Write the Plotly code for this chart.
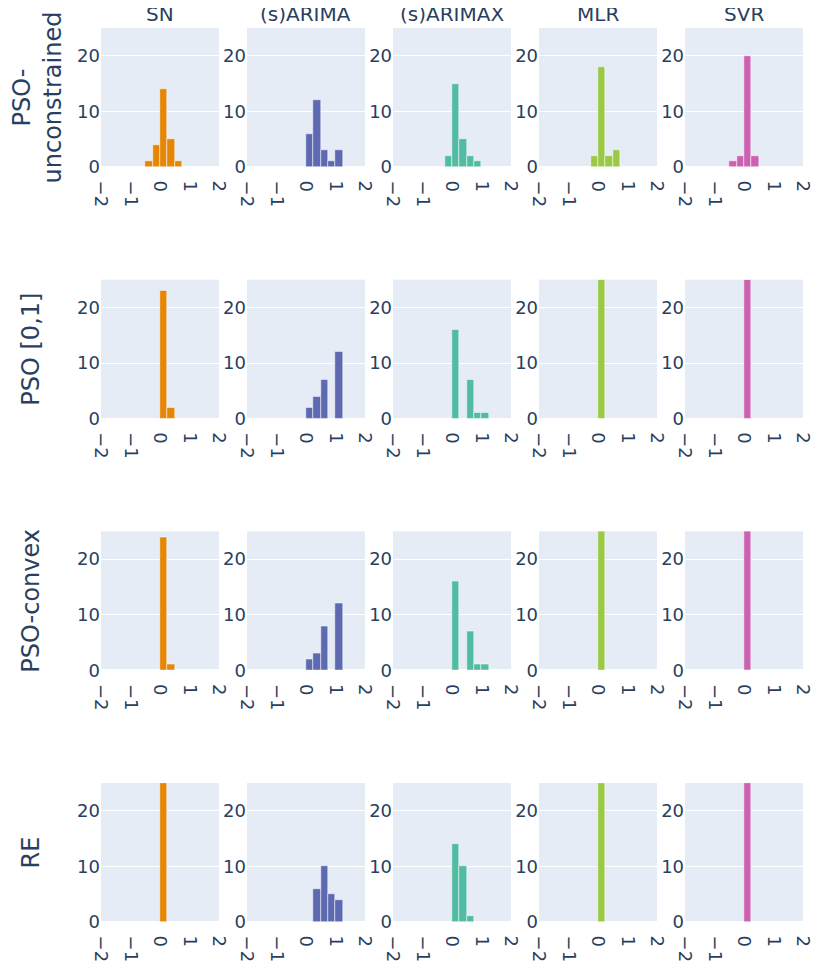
import plotly.graph_objects as go
from plotly.subplots import make_subplots

# model columns and method rows
models = ["SN", "(s)ARIMA", "(s)ARIMAX", "MLR", "SVR"]
methods = ["PSO-<br>unconstrained", "PSO [0,1]", "PSO-convex", "RE"]

# left edges of the histogram bins (width 0.25)
bin_left = [-0.5, -0.25, 0.0, 0.25, 0.5, 0.75, 1.0]
bin_width = 0.25

# counts per bin, one list per model for each method row
pso_unconstrained = [
    [1, 4, 14, 5, 1, 0, 0],
    [0, 0, 6, 12, 3, 1, 3],
    [0, 2, 15, 5, 2, 1, 0],
    [0, 2, 18, 2, 3, 0, 0],
    [1, 2, 20, 2, 0, 0, 0],
]
pso_01 = [
    [0, 0, 23, 2, 0, 0, 0],
    [0, 0, 2, 4, 7, 0, 12],
    [0, 0, 16, 0, 7, 1, 1],
    [0, 0, 25, 0, 0, 0, 0],
    [0, 0, 25, 0, 0, 0, 0],
]
pso_convex = [
    [0, 0, 24, 1, 0, 0, 0],
    [0, 0, 2, 3, 8, 0, 12],
    [0, 0, 16, 0, 7, 1, 1],
    [0, 0, 25, 0, 0, 0, 0],
    [0, 0, 25, 0, 0, 0, 0],
]
re_counts = [
    [0, 0, 25, 0, 0, 0, 0],
    [0, 0, 0, 6, 10, 5, 4],
    [0, 0, 14, 10, 1, 0, 0],
    [0, 0, 25, 0, 0, 0, 0],
    [0, 0, 25, 0, 0, 0, 0],
]

colors = ["rgb(229, 134, 6)", "rgb(93, 105, 177)", "rgb(82, 188, 163)",
          "rgb(153, 201, 69)", "rgb(204, 97, 176)"]

all_rows = [pso_unconstrained, pso_01, pso_convex, re_counts]

fig = make_subplots(rows=4, cols=5,
                    subplot_titles=models + [""] * 15,
                    horizontal_spacing=0.04, vertical_spacing=0.126)

for r, row_counts in enumerate(all_rows):
    for c, counts in enumerate(row_counts):
        xs = [x for x, n in zip(bin_left, counts) if n > 0]
        ys = [n for n in counts if n > 0]
        fig.add_trace(
            go.Bar(x=xs, y=ys, width=bin_width, offset=0,
                   marker_color=colors[c],
                   marker_line=dict(color="white", width=0.5),
                   showlegend=False),
            row=r + 1, col=c + 1
        )

# invisible ticks push the rotated x labels a bit lower, as in the original
fig.update_xaxes(range=[-2, 2], dtick=1, tickangle=90, showgrid=False,
                 zeroline=False, automargin=False, tickfont_size=18,
                 ticks="outside", ticklen=9, tickcolor="rgba(0,0,0,0)")
fig.update_yaxes(range=[0, 25], dtick=10, automargin=False, tickfont_size=18)

for r, name in enumerate(methods):
    fig.update_yaxes(title_text=name, title_font_size=24, title_standoff=30,
                     row=r + 1, col=1)

for ann in fig.layout.annotations:
    ann.font.size = 20

fig.update_layout(width=830, height=969, bargap=0,
                  font=dict(family="DejaVu Sans", color="#2a3f5f"),
                  margin=dict(l=93, r=35, t=20, b=55))
fig.write_html("out.html")
